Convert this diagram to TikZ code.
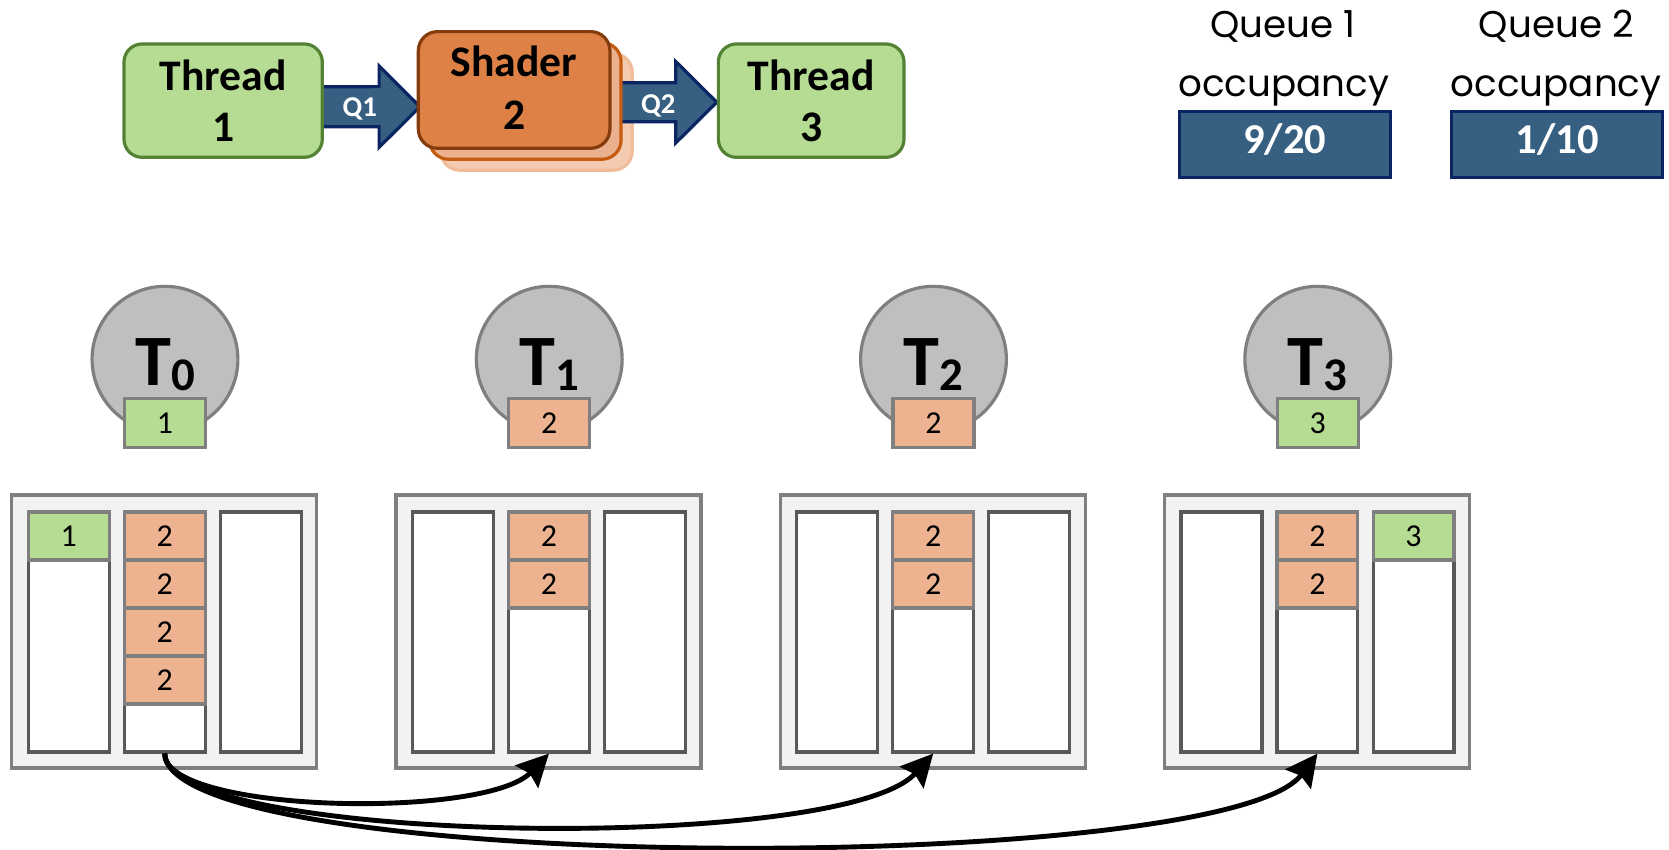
\documentclass[tikz,border=0pt]{standalone}
\usepackage{fontspec}
\setmainfont{Carlito}
\newfontfamily\qfont{Poppins}
\usetikzlibrary{arrows.meta,calc,backgrounds}

\definecolor{thrfill}{HTML}{B5DC92}
\definecolor{thrline}{HTML}{548235}
\definecolor{shfill}{HTML}{DE8147}
\definecolor{shline}{HTML}{843C0C}
\definecolor{shfillb}{HTML}{EBB08D}
\definecolor{shlineb}{HTML}{C55A11}
\definecolor{shfillc}{HTML}{F4CBB0}
\definecolor{shlinec}{HTML}{F0BC9A}
\definecolor{cellor}{HTML}{EDB391}
\definecolor{qblue}{HTML}{375F81}
\definecolor{qnavy}{HTML}{0B2562}
\definecolor{tgrey}{HTML}{BFBFBF}
\definecolor{tline}{HTML}{7F7F7F}
\definecolor{panelfill}{HTML}{F2F2F2}
\definecolor{colline}{HTML}{595959}

\begin{document}
\begin{tikzpicture}[x=0.5pt,y=-0.5pt,
  thr/.style={draw=thrline, fill=thrfill, line width=1.5pt, rounded corners=8.5pt, inner sep=0pt, minimum height=53.25pt},
  shd/.style={line width=1.5pt, rounded corners=9pt, inner sep=0pt, minimum width=90pt, minimum height=54.8pt},
  big/.style={font=\bfseries\fontsize{20.5}{24}\selectfont, inner sep=0pt},
  qarrow/.style={draw=qnavy, fill=qblue, line width=1.5pt, line join=miter},
  qlab/.style={text=white, font=\bfseries\fontsize{13.5}{15}\selectfont, inner sep=0pt},
  qtxt/.style={font=\qfont\fontsize{17.5}{20}\selectfont, inner sep=0pt},
  occ/.style={draw=qnavy, fill=qblue, line width=1.5pt, minimum width=99pt, minimum height=31pt, inner sep=0pt, text=white, font=\bfseries\fontsize{20}{22}\selectfont, text height=12.6pt, text depth=4.5pt},
  tcirc/.style={circle, draw=tline, fill=tgrey, line width=1.5pt, minimum size=68.5pt, inner sep=0pt},
  tlab/.style={font=\bfseries\fontsize{34}{36}\selectfont, inner sep=0pt},
  tbox/.style={draw=tline, line width=1.5pt, minimum width=38pt, minimum height=23pt, inner sep=0pt, font=\fontsize{15}{17}\selectfont, text height=9.4pt, text depth=0pt},
  panel/.style={draw=tline, fill=panelfill, line width=1.5pt, minimum width=143.25pt, minimum height=128.25pt, inner sep=0pt},
  qcol/.style={draw=colline, fill=white, line width=1.5pt, minimum width=38pt, minimum height=112.75pt, inner sep=0pt},
  cell/.style={draw=tline, line width=1.5pt, minimum width=38pt, minimum height=22.55pt, inner sep=0pt, font=\fontsize{15}{17}\selectfont, text height=9.4pt, text depth=0pt},
  flow/.style={line width=2.3pt, -{Stealth[length=15pt,width=15pt,inset=2pt]}},
]
\useasboundingbox (0,0) rectangle (1568,798);

% ---- pipeline: thread -> shader -> thread ----
\node[thr, minimum width=93.15pt] (t1) at (209.65,94.55) {};
\node[big, anchor=base] (t1a) at (209.65,84.6) {Thread};
\node[big, anchor=base] (t1b) at (209.65,133) {1};

\node[thr, minimum width=87.2pt] (t3) at (762.1,94.55) {};
\node[big, anchor=base] (t3a) at (762.1,84.6) {Thread};
\node[big, anchor=base] (t3b) at (762.1,133) {3};

\node[shd, draw=shlineb, fill=shfillb] (sh2) at (493.5,94.8) {};
\node[shd, draw=shline, fill=shfill] (sh1) at (483,84.5) {};
\node[big, anchor=base] (sha) at (483,72) {Shader};
\node[big, anchor=base] (shb) at (483,122) {2};

\begin{scope}[on background layer]
  \node[shd, draw=shlinec, fill=shfillc] (sh3) at (504,105.1) {};
  \path (t1.east) ++(-1.8,5.7) coordinate (q1a);
  \path (sh1.west) ++(3,15.7) coordinate (q1b);
  \draw[qarrow] ($(q1a)+(0,-18.8)$) -- ($(q1b)+(-38.3,-18.8)$) -- ($(q1b)+(-38.3,-38.2)$)
     -- (q1b) -- ($(q1b)+(-38.3,38.2)$) -- ($(q1b)+(-38.3,18.8)$) -- ($(q1a)+(0,18.8)$) -- cycle;
  \path (sh2.east) ++(-4.4,1.2) coordinate (q2a);
  \path (t3.west) ++(0,1.5) coordinate (q2b);
  \draw[qarrow] ($(q2a)+(0,-18.3)$) -- ($(q2b)+(-38.6,-18.3)$) -- ($(q2b)+(-38.6,-38.3)$)
     -- (q2b) -- ($(q2b)+(-38.6,38.3)$) -- ($(q2b)+(-38.6,18.3)$) -- ($(q2a)+(0,18.3)$) -- cycle;
\end{scope}
\node[qlab, anchor=base] (q1l) at (338,109.5) {Q1};
\node[qlab, anchor=base] (q2l) at (618.5,106.5) {Q2};

% ---- queue occupancy counters ----
\node[qtxt, anchor=base] (oq1a) at (1205,35) {Queue 1};
\node[qtxt, anchor=base] (oq1b) at (1206,90.8) {occupancy};
\node[occ] (occ1) at (1207,135.7) {9/20};
\node[qtxt, anchor=base] (oq2a) at (1462,35) {Queue 2};
\node[qtxt, anchor=base] (oq2b) at (1462,90.8) {occupancy};
\node[occ] (occ2) at (1463,135.7) {1/10};

% ---- threads with their current item ----
\foreach \i/\c/\n in {0/thrfill/1, 1/cellor/2, 2/cellor/2, 3/thrfill/3} {
  \node[tcirc] (th\i) at (155+361*\i,337.5) {};
  \node[tlab, anchor=base] (tl\i) at (155+361*\i,362) {T\raisebox{-2.5pt}{\fontsize{22}{22}\selectfont\i}};
  \node[tbox, fill=\c] (tb\i) at (155+361*\i,397.7) {\n};
}

% ---- per-thread queues ----
\foreach \i in {0,...,3} {
  \node[panel] (p\i) at (154.25+361*\i,593.25) {};
  \node[qcol] (ca\i) at (64.6+361*\i,593.75) {};
  \node[qcol] (cb\i) at (154.7+361*\i,593.75) {};
  \node[qcol] (cc\i) at (245+361*\i,593.75) {};
}
\foreach \x/\k/\c/\t [count=\j] in {64.6/0/thrfill/1, 154.7/0/cellor/2, 154.7/1/cellor/2,
    154.7/2/cellor/2, 154.7/3/cellor/2, 515.7/0/cellor/2, 515.7/1/cellor/2,
    876.7/0/cellor/2, 876.7/1/cellor/2, 1237.7/0/cellor/2, 1237.7/1/cellor/2, 1328/0/thrfill/3} {
  \node[cell, fill=\c] (cell\j) at (\x,503.55+45.1*\k) {\t};
}

% ---- work stealing from the first queue ----
\draw[flow] (cb0.south) .. controls +(0,56) and +(-60,62) .. (cb1.south);
\draw[flow] (cb0.south) .. controls +(0,85) and +(-86,95) .. (cb2.south);
\draw[flow] (cb0.south) .. controls +(5,114) and +(-88,116) .. (cb3.south);
\end{tikzpicture}
\end{document}
